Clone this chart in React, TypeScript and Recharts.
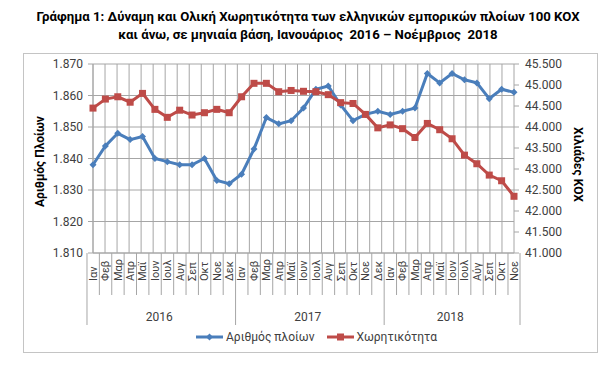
import { ComposedChart, Line, XAxis, YAxis, CartesianGrid, Legend } from "recharts"

// month / year categories, Jan 2016 – Nov 2018
const monthLabels = [
  "Ιαν", "Φεβ", "Μαρ", "Απρ", "Μαϊ", "Ιουν", "Ιουλ", "Αυγ", "Σεπ", "Οκτ", "Νοε", "Δεκ",
  "Ιαν", "Φεβ", "Μαρ", "Απρ", "Μαϊ", "Ιουν", "Ιουλ", "Αυγ", "Σεπ", "Οκτ", "Νοε", "Δεκ",
  "Ιαν", "Φεβ", "Μαρ", "Απρ", "Μαϊ", "Ιουν", "Ιουλ", "Αύγ", "Σεπ", "Οκτ", "Νοε",
]
const yearLabels = [
  "2016", "2016", "2016", "2016", "2016", "2016", "2016", "2016", "2016", "2016", "2016", "2016",
  "2017", "2017", "2017", "2017", "2017", "2017", "2017", "2017", "2017", "2017", "2017", "2017",
  "2018", "2018", "2018", "2018", "2018", "2018", "2018", "2018", "2018", "2018", "2018",
]
// number of ships (left axis)
const ships = [
  1838, 1844, 1848, 1846, 1847, 1840, 1839, 1838, 1838, 1840, 1833, 1832,
  1835, 1843, 1853, 1851, 1852, 1856, 1862, 1863, 1857, 1852, 1854, 1855,
  1854, 1855, 1856, 1867, 1864, 1867, 1865, 1864, 1859, 1862, 1861,
]
// gross tonnage, thousand GT (right axis)
const tonnage = [
  44450, 44665, 44720, 44590, 44800, 44420, 44230, 44400, 44285, 44340, 44420, 44340,
  44720, 45040, 45040, 44840, 44870, 44850, 44840, 44770, 44580, 44560, 44300, 43980,
  44050, 43960, 43750, 44085, 43935, 43720, 43330, 43125, 42855, 42720, 42350,
]
const leftTicks = [1810, 1820, 1830, 1840, 1850, 1860, 1870]
const rightTicks = [41000, 41500, 42000, 42500, 43000, 43500, 44000, 44500, 45000, 45500]

const data = monthLabels.map((m, i) => ({
  month: m,
  year: yearLabels[i],
  ships: ships[i],
  tonnage: tonnage[i],
}))

const BLUE = "#4a7ebb"
const RED = "#be4b48"
const GRID = "#a6a6a6"
const TEXT = "#404040"
const FONT = "Roboto, sans-serif"

const W = 616
const H = 369
const PLOT_LEFT = 93
const PLOT_RIGHT = 514
const PLOT_W = PLOT_RIGHT - PLOT_LEFT
const BW = PLOT_W / monthLabels.length

const fmt = (v: number) => String(v).replace(/\B(?=(\d{3})+(?!\d))/g, ".")

const MonthTick = (props: any) => {
  const { x, y, payload } = props
  const i = payload.index
  const year = yearLabels[i]
  const yearStart = i === 0 || yearLabels[i - 1] !== year
  const isLast = i === monthLabels.length - 1
  const count = yearLabels.filter((v) => v === year).length
  return (
    <g>
      <line x1={x - BW / 2} x2={x - BW / 2} y1={y} y2={y + (yearStart ? 72 : 42)} stroke={GRID} />
      {isLast && <line x1={x + BW / 2} x2={x + BW / 2} y1={y} y2={y + 72} stroke={GRID} />}
      <text
        transform={`translate(${x},${y + 28}) rotate(-90)`}
        dy="0.35em"
        textAnchor="start"
        fontSize={11}
        fill={TEXT}
        fontFamily={FONT}
      >
        {payload.value}
      </text>
      {yearStart && (
        <text x={x - BW / 2 + (count * BW) / 2} y={y + 68} textAnchor="middle" fontSize={12} fill={TEXT} fontFamily={FONT}>
          {year}
        </text>
      )}
    </g>
  )
}

const Diamond = ({ cx, cy, color }: any) => (
  <path d={`M${cx},${cy - 3.5} L${cx + 3.5},${cy} L${cx},${cy + 3.5} L${cx - 3.5},${cy} Z`} fill={color} />
)
const Square = ({ cx, cy, color }: any) => <rect x={cx - 3.5} y={cy - 3.5} width={7} height={7} fill={color} />

const LegendContent = ({ payload }: any) => (
  <div style={{ display: "flex", gap: 12, fontFamily: FONT, fontSize: 12, color: TEXT, alignItems: "center" }}>
    {(payload || []).map((entry: any) => (
      <span key={entry.value} style={{ display: "flex", alignItems: "center", gap: 3 }}>
        <svg width={27} height={10}>
          <line x1={0} x2={27} y1={5} y2={5} stroke={entry.color} strokeWidth={3} />
          {entry.dataKey === "ships" ? <Diamond cx={13.5} cy={5} color={entry.color} /> : <Square cx={13.5} cy={5} color={entry.color} />}
        </svg>
        <span>{entry.value}</span>
      </span>
    ))}
  </div>
)

export default function App() {
  return (
    <div style={{ position: "absolute", left: 0, top: 0, width: W, height: H, background: "#fff", fontFamily: FONT }}>
      <div style={{ position: "absolute", left: 0, top: 8, width: W, textAlign: "center", fontWeight: 700, fontSize: 13.2, lineHeight: "18px", color: "#000" }}>
        <div>Γράφημα 1: Δύναμη και Ολική Χωρητικότητα των ελληνικών εμπορικών πλοίων 100 ΚΟΧ</div>
        <div>και άνω, σε μηνιαία βάση, Ιανουάριος&nbsp; 2016 – Νοέμβριος&nbsp; 2018</div>
      </div>
      <div style={{ position: "absolute", left: 23, top: 53, width: 573, height: 298, border: "1px solid #c4c4c4" }} />
      <div style={{ position: "absolute", left: 0, top: 0 }}>
        <ComposedChart width={W} height={H} data={data} margin={{ top: 64, right: 42, bottom: 46, left: 33 }}>
          <CartesianGrid
            yAxisId="left"
            stroke={GRID}
            verticalCoordinatesGenerator={({ offset }: any) =>
              monthLabels.map((_, i) => offset.left + (i * offset.width) / monthLabels.length)
            }
          />
          <XAxis
            dataKey="month"
            interval={0}
            height={70}
            tickSize={0}
            tickMargin={0}
            tickLine={false}
            axisLine={{ stroke: GRID }}
            tick={<MonthTick />}
          />
          <YAxis
            yAxisId="left"
            width={60}
            domain={[1810, 1870]}
            ticks={leftTicks}
            tickFormatter={fmt}
            tickSize={5}
            tickMargin={5}
            axisLine={{ stroke: GRID }}
            tickLine={{ stroke: GRID }}
            tick={{ fill: TEXT, fontSize: 12, fontFamily: FONT }}
            label={({ viewBox }: any) => (
              <text
                transform={`translate(${viewBox.x + 7},${viewBox.y + viewBox.height / 2 + 3}) rotate(-90)`}
                dy="0.35em"
                textAnchor="middle"
                fontSize={12}
                fontWeight={700}
                fill="#000"
                fontFamily={FONT}
              >
                Αριθμός Πλοίων
              </text>
            )}
          />
          <YAxis
            yAxisId="right"
            orientation="right"
            width={60}
            domain={[41000, 45500]}
            ticks={rightTicks}
            tickFormatter={fmt}
            tickSize={5}
            tickMargin={6}
            axisLine={{ stroke: GRID }}
            tickLine={{ stroke: GRID }}
            tick={{ fill: TEXT, fontSize: 12, fontFamily: FONT }}
            label={({ viewBox }: any) => (
              <text
                transform={`translate(${viewBox.x + 64},${viewBox.y + viewBox.height / 2 + 6}) rotate(90)`}
                dy="0.35em"
                textAnchor="middle"
                fontSize={12}
                fontWeight={700}
                fill="#000"
                fontFamily={FONT}
              >
                Χιλιάδες ΚΟΧ
              </text>
            )}
          />
          <Legend
            layout="horizontal"
            verticalAlign="middle"
            align="center"
            wrapperStyle={{ left: 196, top: 330, width: 280, height: 16 }}
            content={<LegendContent />}
          />
          <Line
            yAxisId="left"
            dataKey="ships"
            name="Αριθμός πλοίων"
            stroke={BLUE}
            strokeWidth={3}
            isAnimationActive={false}
            dot={(p: any) => <Diamond key={p.index} cx={p.cx} cy={p.cy} color={BLUE} />}
          />
          <Line
            yAxisId="right"
            dataKey="tonnage"
            name="Χωρητικότητα"
            stroke={RED}
            strokeWidth={3}
            isAnimationActive={false}
            dot={(p: any) => <Square key={p.index} cx={p.cx} cy={p.cy} color={RED} />}
          />
        </ComposedChart>
      </div>
    </div>
  )
}
